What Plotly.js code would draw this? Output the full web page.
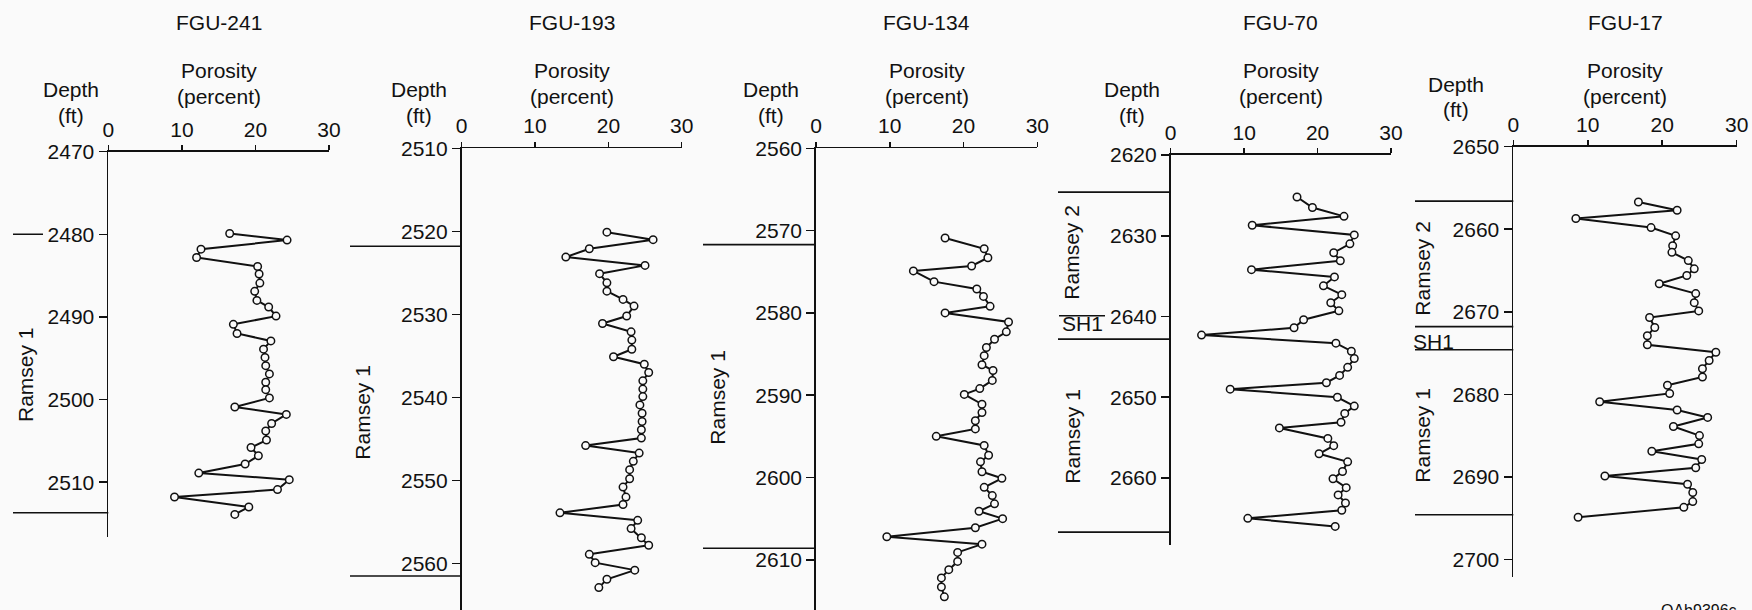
<!DOCTYPE html>
<html>
<head>
<meta charset="utf-8">
<script src="https://cdn.plot.ly/plotly-3.0.1.min.js"></script>
<style>
  html, body { margin: 0; padding: 0; background: #fafafa; }
  #chart { width: 1752px; height: 610px; }
</style>
</head>
<body>
<div id="chart"></div>
<script>
// ---------------- DATA ----------------
var wellNames = ["FGU-241", "FGU-193", "FGU-134", "FGU-70", "FGU-17"];
var porosityTicks = [0, 10, 20, 30];

var depth241 = [2479.9, 2480.7, 2481.8, 2482.8, 2483.9, 2484.8, 2485.9, 2486.9, 2488.0, 2488.8, 2489.9, 2490.9, 2492.0, 2492.9, 2493.9, 2494.9, 2495.9, 2496.9, 2497.9, 2498.8, 2499.8, 2500.9, 2501.8, 2502.9, 2503.8, 2504.9, 2505.8, 2506.8, 2507.8, 2508.9, 2509.7, 2510.9, 2511.8, 2513.0, 2513.9];
var por241 = [16.5, 24.3, 12.6, 12.0, 20.3, 20.5, 20.6, 19.9, 20.2, 21.8, 22.8, 17.0, 17.5, 22.1, 21.1, 21.3, 21.4, 21.9, 21.4, 21.4, 21.9, 17.2, 24.2, 22.2, 21.4, 21.5, 19.4, 20.4, 18.6, 12.3, 24.6, 23.0, 9.0, 19.1, 17.2];

var depth193 = [2520.1, 2521.0, 2522.1, 2523.1, 2524.1, 2525.1, 2526.2, 2527.2, 2528.2, 2529.0, 2530.2, 2531.1, 2532.1, 2533.1, 2534.2, 2535.1, 2536.0, 2537.0, 2538.0, 2539.0, 2539.9, 2540.9, 2541.9, 2542.9, 2543.9, 2544.9, 2545.8, 2546.7, 2547.7, 2548.7, 2549.8, 2550.8, 2552.0, 2552.9, 2553.9, 2554.8, 2555.8, 2556.9, 2557.8, 2558.9, 2559.9, 2560.8, 2561.9, 2562.9];
var por193 = [19.8, 26.1, 17.4, 14.2, 25.0, 18.8, 19.8, 19.8, 22.0, 23.5, 22.5, 19.2, 23.1, 23.2, 23.2, 20.7, 24.9, 25.5, 24.7, 24.7, 24.7, 24.3, 24.6, 24.6, 24.5, 24.5, 16.9, 24.2, 23.4, 22.9, 22.9, 22.0, 22.4, 22.0, 13.4, 24.0, 23.1, 24.5, 25.5, 17.4, 18.2, 23.6, 19.8, 18.7];

var depth134 = [2570.9, 2572.2, 2573.3, 2574.3, 2574.9, 2576.2, 2577.1, 2578.0, 2579.2, 2580.0, 2581.1, 2582.3, 2583.2, 2584.2, 2585.2, 2586.3, 2587.0, 2588.2, 2589.2, 2589.9, 2591.1, 2592.1, 2593.1, 2594.1, 2595.0, 2596.1, 2597.3, 2598.1, 2599.3, 2600.1, 2601.2, 2602.2, 2603.2, 2604.1, 2605.0, 2606.1, 2607.2, 2608.1, 2609.1, 2610.2, 2611.2, 2612.2, 2613.3, 2614.5];
var por134 = [17.5, 22.8, 23.3, 21.1, 13.2, 16.0, 21.8, 22.7, 23.6, 17.5, 26.1, 25.8, 24.2, 23.1, 22.8, 22.5, 24.0, 23.9, 22.2, 20.1, 22.5, 22.5, 21.6, 21.6, 16.3, 22.8, 23.4, 22.3, 22.5, 25.2, 22.8, 23.9, 24.2, 22.1, 25.3, 21.6, 9.6, 22.5, 19.2, 19.2, 18.0, 17.0, 17.0, 17.4];

var depth70 = [2625.2, 2626.5, 2627.6, 2628.7, 2629.9, 2631.0, 2632.1, 2633.1, 2634.2, 2635.1, 2636.2, 2637.3, 2638.3, 2639.3, 2640.4, 2641.4, 2642.3, 2643.3, 2644.3, 2645.2, 2646.3, 2647.3, 2648.2, 2649.0, 2650.0, 2651.1, 2652.0, 2653.1, 2653.8, 2655.1, 2656.0, 2657.0, 2658.0, 2659.2, 2660.1, 2661.2, 2662.1, 2663.1, 2664.0, 2665.0, 2666.0];
var por70 = [17.2, 19.3, 23.6, 11.1, 25.0, 24.4, 22.2, 23.1, 11.0, 22.3, 20.8, 23.3, 21.8, 22.9, 18.1, 16.8, 4.2, 22.5, 24.6, 25.0, 24.1, 23.0, 21.2, 8.1, 22.7, 25.0, 23.7, 23.2, 14.8, 21.4, 22.2, 20.2, 24.1, 23.4, 22.1, 23.9, 22.8, 23.8, 23.3, 10.5, 22.4];

var depth17 = [2656.7, 2657.7, 2658.7, 2659.8, 2660.8, 2662.0, 2662.8, 2663.8, 2664.8, 2665.6, 2666.6, 2667.8, 2668.9, 2669.9, 2670.7, 2671.9, 2672.9, 2674.0, 2674.9, 2675.9, 2676.9, 2677.9, 2678.9, 2679.9, 2680.9, 2681.9, 2682.8, 2683.9, 2685.0, 2686.0, 2686.9, 2687.9, 2688.9, 2689.9, 2690.9, 2691.9, 2693.0, 2693.7, 2694.9];
var por17 = [16.8, 22.0, 8.4, 18.5, 21.8, 21.4, 21.3, 23.5, 24.3, 23.3, 19.6, 24.5, 24.3, 24.9, 18.3, 19.0, 18.0, 18.0, 27.2, 26.3, 25.4, 25.4, 20.7, 21.0, 11.6, 22.0, 26.1, 21.5, 25.0, 24.9, 18.6, 25.3, 24.5, 12.3, 23.4, 24.1, 24.1, 22.9, 8.7];

// depth ranges [top, bottom] and depth tick labels
var depthRange241 = [2470, 2516.6];
var depthRange193 = [2510, 2565.6];
var depthRange134 = [2560, 2616.1];
var depthRange70  = [2620, 2668.3];
var depthRange17  = [2650, 2702.1];
var depthTicks241 = [2470, 2480, 2490, 2500, 2510];
var depthTicks193 = [2510, 2520, 2530, 2540, 2550, 2560];
var depthTicks134 = [2560, 2570, 2580, 2590, 2600, 2610];
var depthTicks70  = [2620, 2630, 2640, 2650, 2660];
var depthTicks17  = [2650, 2660, 2670, 2680, 2690, 2700];

// unit boundaries (depth, ft)
var bounds241 = [2480, 2513.7];
var bounds193 = [2521.8, 2561.5];
var bounds134 = [2571.7, 2608.6];
var bounds70  = [2624.6, 2639.9, 2642.8, 2666.7];
var bounds17  = [2656.6, 2671.8, 2674.6, 2694.6];

// ---------------- LAYOUT GEOMETRY (pixels) ----------------
var W = 1752, H = 610;
function px(x) { return x / W; }
function py(y) { return 1 - y / H; }

var panels = [
  {depth: depth241, por: por241, range: depthRange241, ticks: depthTicks241, bounds: bounds241,
   xpx: [108.3, 329], ypx: [151.7, 536.7], lineStart: 13,
   boundEnd: [43, null], depthX: 71.3,
   units: [{t: "Ramsey 1", x: 25, y: 375, rot: true}]},
  {depth: depth193, por: por193, range: depthRange193, ticks: depthTicks193, bounds: bounds193,
   xpx: [461.7, 681.7], ypx: [148.3, 610], lineStart: 350,
   boundEnd: [null, null], depthX: 418.7,
   units: [{t: "Ramsey 1", x: 361.7, y: 412, rot: true}]},
  {depth: depth134, por: por134, range: depthRange134, ticks: depthTicks134, bounds: bounds134,
   xpx: [816, 1037.3], ypx: [148.3, 610], lineStart: 703,
   boundEnd: [null, null], depthX: 770.5,
   units: [{t: "Ramsey 1", x: 716.7, y: 397, rot: true}]},
  {depth: depth70, por: por70, range: depthRange70, ticks: depthTicks70, bounds: bounds70,
   xpx: [1170.7, 1391], ypx: [155, 545], lineStart: 1058,
   boundEnd: [null, 1105, null, null], depthX: 1131.7,
   units: [{t: "Ramsey 2", x: 1071.7, y: 252, rot: true},
           {t: "SH1", x: 1082.5, y: 324, rot: false},
           {t: "Ramsey 1", x: 1071.7, y: 436, rot: true}]},
  {depth: depth17, por: por17, range: depthRange17, ticks: depthTicks17, bounds: bounds17,
   xpx: [1513.3, 1736.7], ypx: [146.7, 576.7], lineStart: 1415,
   boundEnd: [null, null, null, null], depthX: 1455.5,
   units: [{t: "Ramsey 2", x: 1421.7, y: 268, rot: true},
           {t: "SH1", x: 1433.3, y: 341.7, rot: false},
           {t: "Ramsey 1", x: 1421.7, y: 435, rot: true}]}
];

var FONT = "Liberation Sans, Arial, Helvetica, sans-serif";
var INK = "#111111";
var FS = 21;

var traces = [];
var layout = {
  width: W, height: H,
  margin: {l: 0, r: 0, t: 0, b: 0},
  paper_bgcolor: "#fafafa",
  plot_bgcolor: "rgba(0,0,0,0)",
  showlegend: false,
  font: {family: FONT, size: FS, color: INK},
  shapes: [],
  annotations: []
};

function ann(text, x, y, opts) {
  var a = {text: text, xref: "paper", yref: "paper", x: px(x), y: py(y),
           xanchor: "center", yanchor: "middle", showarrow: false,
           font: {family: FONT, size: FS, color: INK}};
  for (var k in (opts || {})) a[k] = opts[k];
  return a;
}

panels.forEach(function (p, i) {
  var n = i === 0 ? "" : String(i + 1);
  var xa = "x" + n, ya = "y" + n;
  traces.push({
    type: "scatter", mode: "lines+markers",
    x: p.por, y: p.depth, xaxis: xa, yaxis: ya,
    line: {color: INK, width: 2},
    marker: {symbol: "circle", size: 7.5, color: "#fafafa", line: {color: INK, width: 1.5}},
    cliponaxis: false, hoverinfo: "x+y"
  });
  layout["xaxis" + n] = {
    domain: [px(p.xpx[0]), px(p.xpx[1])],
    anchor: ya, side: "top", range: [0, 30],
    tickmode: "array", tickvals: porosityTicks, ticktext: porosityTicks.map(String),
    ticks: "outside", ticklen: 5, tickwidth: 1.5, tickcolor: INK,
    showline: true, linecolor: INK, linewidth: 1.8, mirror: false,
    showgrid: false, zeroline: false, fixedrange: true,
    tickfont: {family: FONT, size: FS, color: INK}
  };
  layout["yaxis" + n] = {
    domain: [py(p.ypx[1]), py(p.ypx[0])],
    anchor: xa, range: [p.range[1], p.range[0]],
    tickmode: "array", tickvals: p.ticks, ticktext: p.ticks.map(String),
    ticks: "outside", ticklen: 8, tickwidth: 1.5, tickcolor: INK,
    showline: true, linecolor: INK, linewidth: 1.8,
    showgrid: false, zeroline: false, fixedrange: true,
    tickfont: {family: FONT, size: FS, color: INK}
  };
  // unit boundary lines
  p.bounds.forEach(function (d, j) {
    var startX = p.lineStart;
    var endX = p.boundEnd[j] != null ? p.boundEnd[j] : p.xpx[0];
    if (i === 3 && j === 1) startX = 1059;
    layout.shapes.push({type: "line", xref: "paper", yref: ya,
      x0: px(startX), x1: px(endX), y0: d, y1: d,
      line: {color: INK, width: 1.6}});
  });
  var cx = (p.xpx[0] + p.xpx[1]) / 2;
  layout.annotations.push(ann(wellNames[i], cx, 23));
  layout.annotations.push(ann("Porosity", cx, 70));
  layout.annotations.push(ann("(percent)", cx, 96));
  var dY = i === 4 ? 84 : 90;
  layout.annotations.push(ann("Depth", p.depthX, dY));
  layout.annotations.push(ann("(ft)", p.depthX, dY + 26));
  p.units.forEach(function (u) {
    layout.annotations.push(ann(u.t, u.x, u.y, u.rot ? {textangle: -90} : {}));
  });
});

layout.annotations.push(ann("QAb9396c", 1699, 600, {yanchor: "top", font: {family: FONT, size: 16, color: INK}}));

Plotly.newPlot("chart", traces, layout, {displayModeBar: false, staticPlot: true});
</script>
</body>
</html>
